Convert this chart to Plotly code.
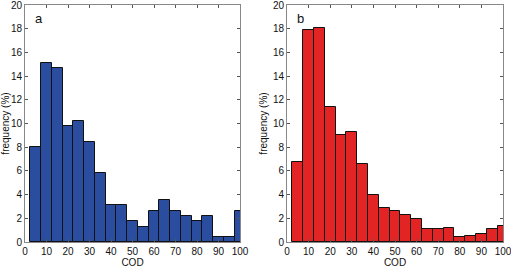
import plotly.graph_objects as go

cod_centers = [5, 10, 15, 20, 25, 30, 35, 40, 45, 50, 55, 60, 65, 70, 75, 80, 85, 90, 95, 100]
freq_a = [8.0, 15.1, 14.65, 9.75, 10.2, 8.47, 5.8, 3.1, 3.1, 1.78, 1.3, 2.65, 3.56, 2.65, 2.2, 1.75, 2.2, 0.42, 0.42, 2.65]
freq_b = [6.72, 17.9, 18.05, 11.36, 9.04, 9.28, 6.58, 3.95, 2.85, 2.6, 2.32, 1.9, 1.07, 1.07, 1.2, 0.4, 0.54, 0.65, 1.07, 1.35]
x_ticks = [0, 10, 20, 30, 40, 50, 60, 70, 80, 90, 100]
y_ticks = [0, 2, 4, 6, 8, 10, 12, 14, 16, 18, 20]
panel_labels = ["a", "b"]

W, H = 511, 269
fig = go.Figure()

fig.add_trace(go.Bar(x=cod_centers, y=freq_a, width=5, marker=dict(color="#2a4da0", line=dict(color="#111111", width=1)),
                     xaxis="x", yaxis="y", showlegend=False, hoverinfo="skip"))
fig.add_trace(go.Bar(x=cod_centers, y=freq_b, width=5, marker=dict(color="#e32424", line=dict(color="#111111", width=1)),
                     xaxis="x2", yaxis="y2", showlegend=False, hoverinfo="skip"))

font = dict(family="Liberation Sans, Arial", size=10, color="#111111")
ax_common = dict(showline=True, mirror="ticks", linecolor="#888888", linewidth=1, automargin=False,
                 ticks="inside", ticklen=3, tickcolor="#555555", showgrid=False, zeroline=False,
                 tickfont=font, ticklabeloverflow="allow")

def px_x(p):
    return p / W

def px_y(p):
    return 1 - p / H

ydom = [px_y(242), px_y(5)]
fig.update_layout(
    width=W, height=H, margin=dict(l=0, r=0, t=0, b=0, autoexpand=False),
    paper_bgcolor="white", plot_bgcolor="white", bargap=0,
    xaxis=dict(domain=[px_x(25), px_x(240)], range=[0, 100], tickvals=x_ticks, anchor="y",
               title=dict(text="COD", font=font, standoff=2), **ax_common),
    yaxis=dict(domain=ydom, range=[0, 20], tickvals=y_ticks, anchor="x",
               title=dict(text="frequency (%)", font=font, standoff=3), **ax_common),
    xaxis2=dict(domain=[px_x(287), px_x(503)], range=[0, 100], tickvals=x_ticks, anchor="y2",
                title=dict(text="COD", font=font, standoff=2), **ax_common),
    yaxis2=dict(domain=ydom, range=[0, 20], tickvals=y_ticks, anchor="x2",
                title=dict(text="frequency (%)", font=font, standoff=3), **ax_common),
    annotations=[
        dict(text=panel_labels[0], x=0.035, y=0.985, xref="x domain", yref="y domain", showarrow=False,
             xanchor="left", yanchor="top", font=dict(family="Liberation Sans, Arial", size=13, color="#111111")),
        dict(text=panel_labels[1], x=0.035, y=0.985, xref="x2 domain", yref="y2 domain", showarrow=False,
             xanchor="left", yanchor="top", font=dict(family="Liberation Sans, Arial", size=13, color="#111111")),
    ],
)

fig.write_html("out.html", config={"displayModeBar": False},
               post_script="document.body.style.margin='0';document.body.style.overflow='hidden';")
